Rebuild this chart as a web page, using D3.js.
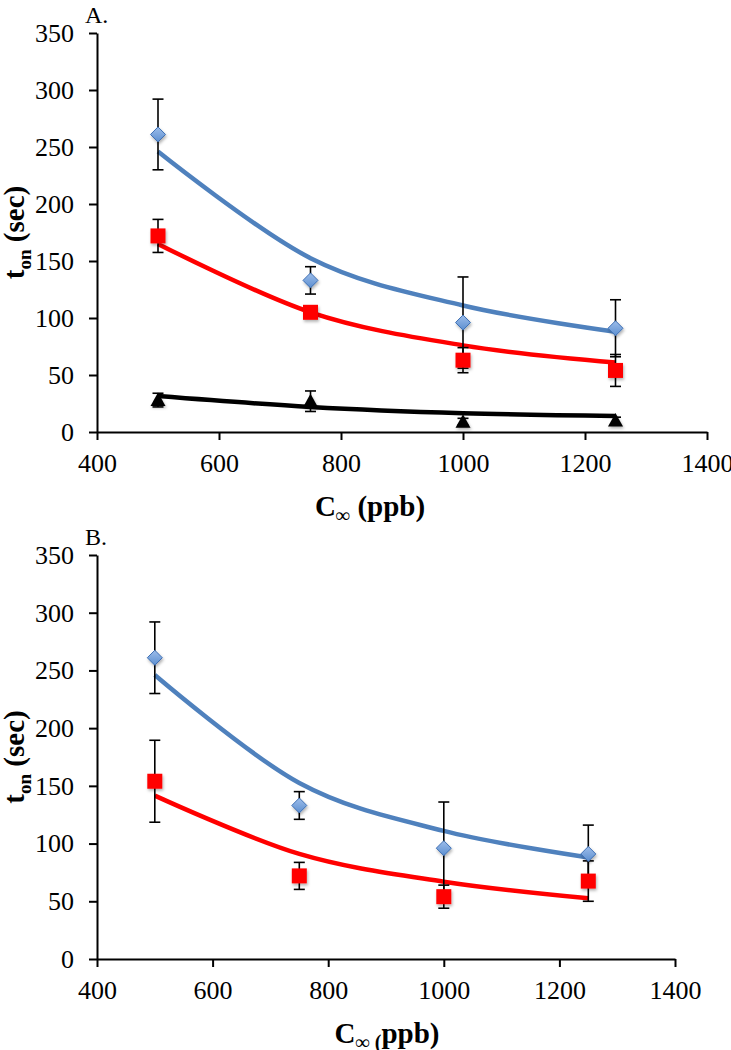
<!DOCTYPE html>
<html>
<head>
<meta charset="utf-8">
<script src="https://cdn.jsdelivr.net/npm/d3@7"></script>
<style>
  body { margin: 0; background: #fff; }
  svg text { font-family: "Liberation Serif", "DejaVu Serif", serif; fill: #000; }
</style>
</head>
<body>
<script>
// concentrations (ppb) and tick values
var conc = [500, 750, 1000, 1250];
var xTicks = [400, 600, 800, 1000, 1200, 1400];
var yTicks = [0, 50, 100, 150, 200, 250, 300, 350];

// blue diamonds (same in both panels)
var blueMean = [261, 133, 96, 91];
var blueErr = [31, 12, 40, 25];
var blueFit = [246, 152.5, 111, 88];

// panel A red squares + black triangles
var redA = [172, 105, 63, 54];
var redAErr = [14.5, 4, 11, 14];
var redAFit = [165, 105, 76, 61];
var blackA = [28, 27, 9, 10];
var blackAErr = [6, 9, 3, 3];
var blackAFit = [31.5, 22, 16.5, 14];

// panel B red squares
var redB = [154, 72, 54, 67.5];
var redBErr = [35.5, 11.7, 10, 17.5];
var redBFit = [141.5, 91, 67, 52.6];

var W = 731, H = 1050;
var svg = d3.select("body").append("svg")
    .attr("width", W)
    .attr("height", H);

var defs = svg.append("defs");
var f = defs.append("filter").attr("id", "shadow")
    .attr("x", "-50%").attr("y", "-50%").attr("width", "200%").attr("height", "200%");
f.append("feDropShadow").attr("dx", 1).attr("dy", 2)
    .attr("stdDeviation", 1.5).attr("flood-color", "#000").attr("flood-opacity", 0.3);
var g = defs.append("linearGradient").attr("id", "blueGrad")
    .attr("x1", 0).attr("y1", 0).attr("x2", 0).attr("y2", 1);
g.append("stop").attr("offset", "0%").attr("stop-color", "#9dbdea");
g.append("stop").attr("offset", "100%").attr("stop-color", "#5c8fd0");

function panel(p) {
    var x = d3.scaleLinear().domain([400, 1400]).range([p.left, p.right]);
    var y = d3.scaleLinear().domain([0, 350]).range([p.bottom, p.top]);
    var root = svg.append("g");

    // axes
    var ya = root.append("g")
        .attr("transform", "translate(" + p.left + ",0)")
        .call(d3.axisLeft(y).tickValues(yTicks).tickFormat(d3.format("d"))
            .tickSize(8).tickSizeOuter(0).tickPadding(15));
    var xa = root.append("g")
        .attr("transform", "translate(0," + p.bottom + ")")
        .call(d3.axisBottom(x).tickValues(xTicks).tickFormat(d3.format("d"))
            .tickSize(8).tickSizeOuter(0).tickPadding(14));
    [ya, xa].forEach(function(a) {
        a.select(".domain").attr("stroke", "#000").attr("stroke-width", 2);
        a.selectAll(".tick line").attr("stroke", "#000").attr("stroke-width", 2);
        a.selectAll(".tick text").style("font-family", "Liberation Serif").style("font-size", "26px");
    });

    var line = d3.line()
        .x(function(d) { return x(d[0]); })
        .y(function(d) { return y(d[1]); })
        .curve(d3.curveCardinal.tension(0));

    // fit curves
    p.series.forEach(function(s) {
        root.append("path")
            .datum(conc.map(function(c, i) { return [c, s.fit[i]]; }))
            .attr("fill", "none")
            .attr("stroke", s.color)
            .attr("stroke-width", 4.5)
            .attr("d", line);
    });

    // error bars
    p.series.forEach(function(s) {
        var eb = root.append("g").selectAll("g")
            .data(conc.map(function(c, i) { return { c: c, m: s.mean[i], e: s.err[i] }; }))
            .enter().append("g");
        eb.append("line")
            .attr("x1", function(d) { return x(d.c); })
            .attr("x2", function(d) { return x(d.c); })
            .attr("y1", function(d) { return y(d.m + d.e); })
            .attr("y2", function(d) { return y(d.m - d.e); })
            .attr("stroke", "#000").attr("stroke-width", 1.6);
        [1, -1].forEach(function(sg) {
            eb.append("line")
                .attr("x1", function(d) { return x(d.c) - 5.5; })
                .attr("x2", function(d) { return x(d.c) + 5.5; })
                .attr("y1", function(d) { return y(d.m + sg * d.e); })
                .attr("y2", function(d) { return y(d.m + sg * d.e); })
                .attr("stroke", "#000").attr("stroke-width", 1.6);
        });
    });

    // markers
    p.series.forEach(function(s) {
        var pts = root.append("g").selectAll("path")
            .data(conc.map(function(c, i) { return [c, s.mean[i]]; }))
            .enter().append("path")
            .attr("transform", function(d) { return "translate(" + x(d[0]) + "," + y(d[1]) + ")"; })
            .attr("filter", "url(#shadow)");
        if (s.shape === "diamond") {
            pts.attr("d", "M0,-7.5L7.5,0L0,7.5L-7.5,0Z")
               .attr("fill", "url(#blueGrad)")
               .attr("stroke", "#3d6fb4").attr("stroke-width", 1);
        } else if (s.shape === "square") {
            pts.attr("d", "M-7.5,-7.5H7.5V7.5H-7.5Z").attr("fill", "#ff0000");
        } else {
            pts.attr("d", "M0,-7.5L7.5,6L-7.5,6Z").attr("fill", "#000");
        }
    });

    // panel letter
    root.append("text")
        .attr("x", p.left - 12).attr("y", p.top - 10)
        .style("font-size", "24px")
        .text(p.letter);

    // y title
    var yt = root.append("text")
        .attr("transform", "translate(24," + ((p.top + p.bottom) / 2) + ") rotate(-90)")
        .attr("text-anchor", "middle")
        .style("font-size", "29px").style("font-weight", "bold");
    yt.append("tspan").text("t");
    yt.append("tspan").attr("dy", 7).style("font-size", "19px").text("on");
    yt.append("tspan").attr("dy", -7).text(" (sec)");

    // x title
    var xt = root.append("text")
        .attr("x", p.xTitleX).attr("y", p.bottom + 84)
        .attr("text-anchor", "middle")
        .style("font-size", "29px").style("font-weight", "bold");
    xt.append("tspan").text("C");
    xt.append("tspan").attr("dy", 6).style("font-size", "20px").text(p.sub);
    xt.append("tspan").attr("dy", -6).text(p.rest);
}

panel({
    letter: "A.", left: 97, right: 707, top: 33, bottom: 432, xTitleX: 370,
    sub: "\u221e", rest: " (ppb)",
    series: [
        { shape: "diamond", color: "#4f81bd", mean: blueMean, err: blueErr, fit: blueFit },
        { shape: "square", color: "#ff0000", mean: redA, err: redAErr, fit: redAFit },
        { shape: "triangle", color: "#000000", mean: blackA, err: blackAErr, fit: blackAFit }
    ]
});

panel({
    letter: "B.", left: 97, right: 675, top: 555, bottom: 959, xTitleX: 387,
    sub: "\u221e (", rest: "ppb)",
    series: [
        { shape: "diamond", color: "#4f81bd", mean: blueMean, err: blueErr, fit: blueFit },
        { shape: "square", color: "#ff0000", mean: redB, err: redBErr, fit: redBFit }
    ]
});
</script>
</body>
</html>
